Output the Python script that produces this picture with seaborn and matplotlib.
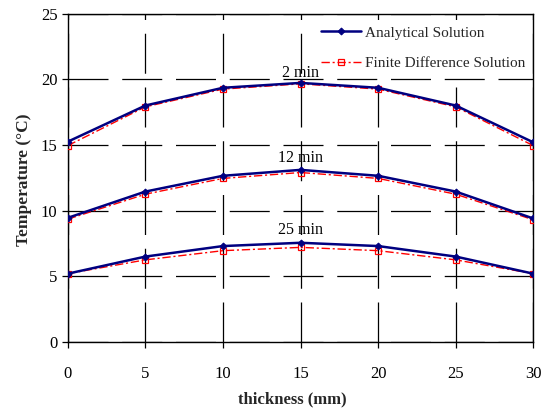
import matplotlib
matplotlib.use("Agg")
import matplotlib.pyplot as plt
import seaborn as sns
import pandas as pd

thickness = [0, 5, 10, 15, 20, 25, 30]
an_2 = [15.25, 18.0, 19.35, 19.72, 19.35, 18.0, 15.2]
fd_2 = [14.95, 17.9, 19.25, 19.65, 19.25, 17.9, 14.95]
an_12 = [9.45, 11.45, 12.65, 13.1, 12.65, 11.45, 9.4]
fd_12 = [9.35, 11.25, 12.45, 12.9, 12.45, 11.25, 9.3]
an_25 = [5.2, 6.5, 7.3, 7.55, 7.3, 6.5, 5.2]
fd_25 = [5.2, 6.25, 6.95, 7.2, 6.95, 6.25, 5.2]
time_labels = ["2 min", "12 min", "25 min"]

sns.set_theme(style="white")
plt.rcParams['font.family'] = ['Liberation Serif', 'DejaVu Serif']

fig = plt.figure(figsize=(5.43, 4.11), dpi=100)
ax = fig.add_axes([0.125, 0.168, 0.857, 0.799])

navy = "#000080"
red = "#FF0000"
an_sets = [an_2, an_12, an_25]
fd_sets = [fd_2, fd_12, fd_25]
for i, (an, fd) in enumerate(zip(an_sets, fd_sets)):
    df = pd.DataFrame({"x": thickness, "an": an, "fd": fd})
    sns.lineplot(data=df, x="x", y="fd", ax=ax, color=red, lw=1.0,
                 linestyle=(0, (6, 2, 1.5, 2)), marker="s", markersize=5,
                 markerfacecolor="none", markeredgecolor=red, markeredgewidth=0.9,
                 label="Finite Difference Solution" if i == 0 else None, zorder=3)
    sns.lineplot(data=df, x="x", y="an", ax=ax, color=navy, lw=1.8,
                 marker="D", markersize=3.5, markeredgecolor=navy,
                 markerfacecolor=navy,
                 label="Analytical Solution" if i == 0 else None, zorder=4)

label_y = [20.5, 14.0, 8.55]
for lab, yy in zip(time_labels, label_y):
    ax.text(15, yy, lab, ha="center", va="center", fontsize=11.5, color="black",
            zorder=12)

ax.set_xlim(0, 30)
ax.set_ylim(0, 25)
ax.set_xticks(thickness)
ax.set_yticks([0, 5, 10, 15, 20, 25])
ax.grid(True, color="black", lw=0.9, linestyle=(0, (32, 11)))
ax.tick_params(axis="both", direction="out", length=4, width=0.9, colors="black",
               labelsize=12, bottom=True, left=True)
ax.tick_params(axis="x", pad=13)
for s in ax.spines.values():
    s.set_color("black")
    s.set_linewidth(1.0)

ax.set_xlabel("thickness (mm)", fontsize=12, fontweight="bold")
ax.set_ylabel("Temperature (°C)", fontsize=12.5, fontweight="bold")
ax.xaxis.set_label_coords(0.482, -0.15)
ax.yaxis.set_label_coords(-0.078, 0.494)

handles, labels = ax.get_legend_handles_labels()
order = [labels.index("Analytical Solution"), labels.index("Finite Difference Solution")]
leg = ax.legend([handles[j] for j in order], [labels[j] for j in order],
                loc="upper right", bbox_to_anchor=(1.0, 0.985),
                fontsize=11, frameon=True, fancybox=False,
                facecolor="white", edgecolor="white", framealpha=1,
                handlelength=2.6, labelspacing=1.1, borderaxespad=0.3,
                borderpad=0.2, handletextpad=0.3)
leg.set_zorder(10)

fig.savefig("out.png", dpi=100)
